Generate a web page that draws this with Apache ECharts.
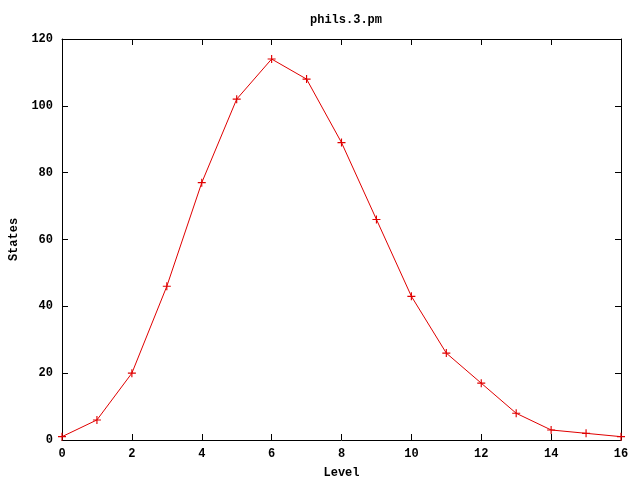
<!DOCTYPE html>
<html><head><meta charset="utf-8">
<script src="https://cdn.jsdelivr.net/npm/echarts@6/dist/echarts.min.js"></script>
<style>html,body{margin:0;padding:0;background:#fff}#c{width:640px;height:480px}</style>
</head><body><div id="c"></div>
<script>
const levels = [0,1,2,3,4,5,6,7,8,9,10,11,12,13,14,15,16];
const states = [1,6,20,46,77,102,114,108,89,66,43,26,17,8,3,2,1];
const titleText = 'phils.3.pm';
const xName = 'Level';
const yName = 'States';

const font = 'Liberation Mono';
const chart = echarts.init(document.getElementById('c'), null, {renderer:'canvas'});
const lbl = {color:'#000', fontFamily:font, fontWeight:'bold', fontSize:12};
const tick = {show:true, inside:true, length:6, lineStyle:{color:'#000', width:1}};
const line = {show:true, onZero:false, lineStyle:{color:'#000', width:1}};
chart.setOption({
  animation:false,
  backgroundColor:'#fff',
  title:{text:titleText, left:341, top:9, textAlign:'center',
    textStyle:{fontFamily:font, fontWeight:'bold', fontSize:12, color:'#000'}},
  grid:{left:62, right:19, top:39, bottom:40, containLabel:false, outerBoundsMode:'none'},
  xAxis:[
    {type:'value', min:0, max:16, interval:2, axisLine:line, axisTick:tick,
     axisLabel:Object.assign({margin:8}, lbl), splitLine:{show:false},
     name:xName, nameLocation:'middle', nameGap:27, nameTextStyle:lbl},
    {type:'value', position:'top', min:0, max:16, interval:2, axisLine:line, axisTick:tick,
     axisLabel:{show:false}, splitLine:{show:false}}
  ],
  yAxis:[
    {type:'value', min:0, max:120, interval:20, axisLine:line, axisTick:tick,
     axisLabel:Object.assign({margin:9}, lbl), splitLine:{show:false},
     name:yName, nameLocation:'middle', nameGap:42, nameRotate:90, nameTextStyle:lbl},
    {type:'value', position:'right', min:0, max:120, interval:20, axisLine:line, axisTick:tick,
     axisLabel:{show:false}, splitLine:{show:false}}
  ],
  series:[{
    type:'line',
    data:levels.map((x,i)=>[x,states[i]]),
    lineStyle:{color:'#e00000', width:1},
    symbol:'path://M3,0h1v3h3v1h-3v3h-1v-3h-3v-1h3z',
    symbolSize:8,
    showAllSymbol:true,
    itemStyle:{color:'#e00000', borderWidth:0},
    clip:false
  }]
});
</script></body></html>
